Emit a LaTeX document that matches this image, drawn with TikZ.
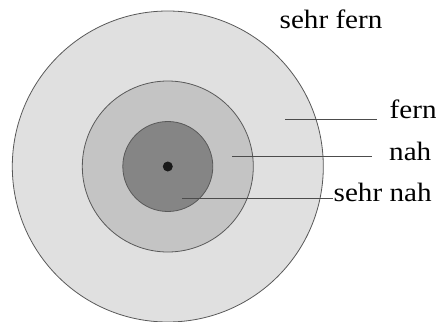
\documentclass[tikz,border=0pt]{standalone}
\usepackage{fontspec}
\setmainfont{Liberation Serif}[FakeStretch=1.1]
\begin{document}
\begin{tikzpicture}[x=1pt, y=-1pt, every node/.style={font=\fontsize{26.5}{30}\selectfont}]
    \tikzset{
        zone/.style={draw=black!65, line width=0.8pt, circle, inner sep=0pt},
        lbl/.style={anchor=base west, inner sep=0pt, text=black},
        pointer/.style={draw=black!70, line width=0.8pt}
    }
    \useasboundingbox (0,0) rectangle (436,321);
    % the rings, drawn from the outside in
    \node[zone, fill=black!12, minimum size=311pt] (far) at (167.8,166.5) {};
    \node[zone, fill=black!23, minimum size=171pt] (near) at (far.center) {};
    \node[zone, fill=black!48, minimum size=90pt] (verynear) at (far.center) {};
    \node[circle, fill=black!90, inner sep=0pt, minimum size=10pt] (me) at (far.center) {};
    % labels
    \node[lbl] (lfar) at (279.5,28.3) {sehr fern};
    \node[lbl] (lfern) at (389.5,118.5) {fern};
    \node[lbl] (lnah) at (389,160.7) {nah};
    \node[lbl] (lsehrnah) at (333.5,201) {sehr nah};
    \coordinate (pfern) at (285,119);
    \coordinate (pnah) at (232,156);
    \coordinate (psehrnah) at (182,198);
    \draw[pointer] (pfern) -- (pfern -| 377,0);
    \draw[pointer] (pnah) -- (pnah -| 372,0);
    \draw[pointer, shorten >=1pt] (psehrnah) -- (psehrnah -| lsehrnah.west);
\end{tikzpicture}
\end{document}
